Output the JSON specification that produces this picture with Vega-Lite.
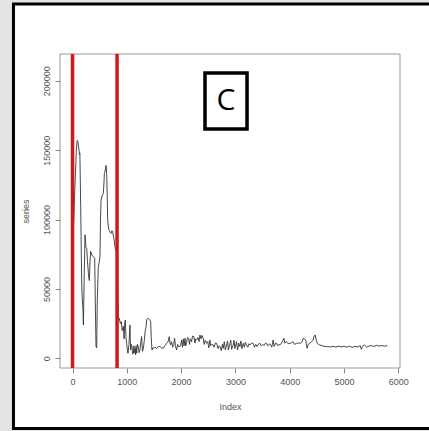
{
  "$schema": "https://vega.github.io/schema/vega-lite/v6.json",
  "autosize": {"type": "none"},
  "width": 340,
  "height": 314,
  "padding": {"left": 60, "top": 54, "right": 29, "bottom": 63},
  "background": "#e4e4e4",
  "config": {
    "view": {"stroke": null},
    "axis": {
      "domain": false,
      "grid": false,
      "tickColor": "#888888",
      "tickSize": 5,
      "labelColor": "#555555",
      "labelFont": "Liberation Sans",
      "labelFontSize": 9,
      "labelPadding": 4,
      "titleColor": "#555555",
      "titleFont": "Liberation Sans",
      "titleFontSize": 9,
      "titleFontWeight": "normal"
    }
  },
  "datasets": {
    "series": [
      {"Index": 1, "series": 18000}, {"Index": 15, "series": 90000}, {"Index": 40, "series": 120000}, {"Index": 70, "series": 150000},
      {"Index": 85, "series": 157000}, {"Index": 100, "series": 156000}, {"Index": 120, "series": 150000}, {"Index": 126, "series": 147000},
      {"Index": 135, "series": 148000}, {"Index": 150, "series": 110000}, {"Index": 169, "series": 54000}, {"Index": 180, "series": 42000},
      {"Index": 187, "series": 38000}, {"Index": 195, "series": 32000}, {"Index": 200, "series": 24000}, {"Index": 215, "series": 60000},
      {"Index": 230, "series": 89000}, {"Index": 240, "series": 84000}, {"Index": 248, "series": 80000}, {"Index": 262, "series": 79000},
      {"Index": 275, "series": 70000}, {"Index": 291, "series": 62000}, {"Index": 300, "series": 58000}, {"Index": 310, "series": 56000},
      {"Index": 322, "series": 70000}, {"Index": 334, "series": 77000}, {"Index": 350, "series": 75000}, {"Index": 371, "series": 73500},
      {"Index": 390, "series": 73000}, {"Index": 408, "series": 72000}, {"Index": 420, "series": 40000}, {"Index": 432, "series": 8400},
      {"Index": 445, "series": 7500}, {"Index": 455, "series": 40000}, {"Index": 475, "series": 66000}, {"Index": 495, "series": 70000},
      {"Index": 506, "series": 74000}, {"Index": 515, "series": 100000}, {"Index": 525, "series": 114000}, {"Index": 545, "series": 117000},
      {"Index": 567, "series": 119000}, {"Index": 580, "series": 127000}, {"Index": 586, "series": 133000}, {"Index": 600, "series": 135000},
      {"Index": 617, "series": 139000}, {"Index": 629, "series": 133000}, {"Index": 640, "series": 115000}, {"Index": 647, "series": 100000},
      {"Index": 665, "series": 93000}, {"Index": 678, "series": 92000}, {"Index": 695, "series": 90500}, {"Index": 709, "series": 90000},
      {"Index": 725, "series": 92000}, {"Index": 739, "series": 91500}, {"Index": 752, "series": 88000}, {"Index": 764, "series": 86000},
      {"Index": 788, "series": 79000}, {"Index": 815, "series": 76000}, {"Index": 845, "series": 28000}, {"Index": 862, "series": 28800},
      {"Index": 880, "series": 25000}, {"Index": 899, "series": 26400}, {"Index": 915, "series": 20000}, {"Index": 936, "series": 23000},
      {"Index": 950, "series": 14000}, {"Index": 960, "series": 25000}, {"Index": 972, "series": 27600}, {"Index": 985, "series": 15000},
      {"Index": 997, "series": 10800}, {"Index": 1010, "series": 6000}, {"Index": 1021, "series": 3600}, {"Index": 1040, "series": 10000},
      {"Index": 1058, "series": 24000}, {"Index": 1065, "series": 12000}, {"Index": 1071, "series": 6000}, {"Index": 1082, "series": 10000},
      {"Index": 1095, "series": 8400}, {"Index": 1105, "series": 3000}, {"Index": 1120, "series": 3600}, {"Index": 1130, "series": 9000},
      {"Index": 1140, "series": 4000}, {"Index": 1150, "series": 7200}, {"Index": 1160, "series": 2500}, {"Index": 1170, "series": 9000},
      {"Index": 1181, "series": 3600}, {"Index": 1195, "series": 10000}, {"Index": 1212, "series": 8400}, {"Index": 1225, "series": 4000},
      {"Index": 1242, "series": 6000}, {"Index": 1258, "series": 12000}, {"Index": 1273, "series": 15600}, {"Index": 1288, "series": 5000},
      {"Index": 1304, "series": 7200}, {"Index": 1320, "series": 12000}, {"Index": 1340, "series": 20400}, {"Index": 1352, "series": 22000},
      {"Index": 1365, "series": 27600}, {"Index": 1380, "series": 28500}, {"Index": 1402, "series": 28800}, {"Index": 1420, "series": 28000},
      {"Index": 1439, "series": 26400}, {"Index": 1450, "series": 15000}, {"Index": 1463, "series": 6000}, {"Index": 1480, "series": 7500},
      {"Index": 1500, "series": 7200}, {"Index": 1520, "series": 8000}, {"Index": 1549, "series": 7000}, {"Index": 1580, "series": 8500},
      {"Index": 1610, "series": 8400}, {"Index": 1640, "series": 7500}, {"Index": 1672, "series": 7200}, {"Index": 1700, "series": 9000},
      {"Index": 1733, "series": 10800}, {"Index": 1760, "series": 12000}, {"Index": 1782, "series": 15600}, {"Index": 1795, "series": 11000},
      {"Index": 1807, "series": 9600}, {"Index": 1825, "series": 12000}, {"Index": 1844, "series": 8000}, {"Index": 1865, "series": 10000},
      {"Index": 1880, "series": 14400}, {"Index": 1895, "series": 9000}, {"Index": 1917, "series": 6000}, {"Index": 1935, "series": 10000},
      {"Index": 1950, "series": 8500}, {"Index": 1979, "series": 8400}, {"Index": 1995, "series": 10000}, {"Index": 2009, "series": 13200},
      {"Index": 2025, "series": 8000}, {"Index": 2040, "series": 14000}, {"Index": 2055, "series": 9000}, {"Index": 2071, "series": 14400},
      {"Index": 2085, "series": 9000}, {"Index": 2101, "series": 10800}, {"Index": 2115, "series": 15000}, {"Index": 2138, "series": 14400},
      {"Index": 2155, "series": 10000}, {"Index": 2170, "series": 14000}, {"Index": 2193, "series": 12000}, {"Index": 2210, "series": 16000},
      {"Index": 2236, "series": 15600}, {"Index": 2255, "series": 11000}, {"Index": 2270, "series": 14000}, {"Index": 2285, "series": 13200},
      {"Index": 2310, "series": 15000}, {"Index": 2330, "series": 12000}, {"Index": 2347, "series": 16800}, {"Index": 2365, "series": 14000},
      {"Index": 2385, "series": 16500}, {"Index": 2408, "series": 14400}, {"Index": 2425, "series": 10000}, {"Index": 2445, "series": 13000},
      {"Index": 2469, "series": 10800}, {"Index": 2490, "series": 12000}, {"Index": 2510, "series": 7500}, {"Index": 2530, "series": 13200},
      {"Index": 2545, "series": 9000}, {"Index": 2565, "series": 10000}, {"Index": 2592, "series": 9600}, {"Index": 2610, "series": 8000},
      {"Index": 2630, "series": 11000}, {"Index": 2653, "series": 10800}, {"Index": 2680, "series": 7000}, {"Index": 2700, "series": 9000},
      {"Index": 2715, "series": 8400}, {"Index": 2740, "series": 5500}, {"Index": 2760, "series": 10000}, {"Index": 2776, "series": 7200},
      {"Index": 2795, "series": 12000}, {"Index": 2815, "series": 6000}, {"Index": 2837, "series": 9600}, {"Index": 2855, "series": 12500},
      {"Index": 2870, "series": 6000}, {"Index": 2899, "series": 10800}, {"Index": 2915, "series": 13000}, {"Index": 2930, "series": 6500},
      {"Index": 2960, "series": 9600}, {"Index": 2975, "series": 13000}, {"Index": 2990, "series": 7000}, {"Index": 3021, "series": 12000},
      {"Index": 3040, "series": 6000}, {"Index": 3060, "series": 11000}, {"Index": 3083, "series": 8400}, {"Index": 3100, "series": 12500},
      {"Index": 3120, "series": 7000}, {"Index": 3144, "series": 10800}, {"Index": 3165, "series": 8000}, {"Index": 3185, "series": 11500},
      {"Index": 3205, "series": 9600}, {"Index": 3230, "series": 8000}, {"Index": 3250, "series": 10500}, {"Index": 3270, "series": 9600},
      {"Index": 3300, "series": 11000}, {"Index": 3328, "series": 10800}, {"Index": 3350, "series": 8000}, {"Index": 3375, "series": 10000},
      {"Index": 3400, "series": 8400}, {"Index": 3430, "series": 10500}, {"Index": 3451, "series": 10800}, {"Index": 3475, "series": 9000},
      {"Index": 3500, "series": 10000}, {"Index": 3530, "series": 9200}, {"Index": 3555, "series": 11000}, {"Index": 3574, "series": 10800},
      {"Index": 3600, "series": 9000}, {"Index": 3630, "series": 10500}, {"Index": 3650, "series": 9600}, {"Index": 3670, "series": 8000},
      {"Index": 3696, "series": 13200}, {"Index": 3715, "series": 8500}, {"Index": 3740, "series": 11000}, {"Index": 3758, "series": 10800},
      {"Index": 3780, "series": 9000}, {"Index": 3800, "series": 10000}, {"Index": 3820, "series": 9600}, {"Index": 3850, "series": 11000},
      {"Index": 3870, "series": 12500}, {"Index": 3893, "series": 14400}, {"Index": 3910, "series": 11000}, {"Index": 3942, "series": 12000},
      {"Index": 3970, "series": 10500}, {"Index": 4003, "series": 10800}, {"Index": 4030, "series": 11000}, {"Index": 4060, "series": 12000},
      {"Index": 4090, "series": 10000}, {"Index": 4126, "series": 10800}, {"Index": 4160, "series": 11000}, {"Index": 4200, "series": 10800},
      {"Index": 4230, "series": 12000}, {"Index": 4248, "series": 14400}, {"Index": 4270, "series": 14000}, {"Index": 4297, "series": 13200},
      {"Index": 4310, "series": 9000}, {"Index": 4322, "series": 7200}, {"Index": 4340, "series": 10000}, {"Index": 4371, "series": 10800},
      {"Index": 4400, "series": 12000}, {"Index": 4432, "series": 13200}, {"Index": 4450, "series": 16000}, {"Index": 4469, "series": 16800},
      {"Index": 4485, "series": 14000}, {"Index": 4506, "series": 10800}, {"Index": 4530, "series": 10000}, {"Index": 4555, "series": 9600},
      {"Index": 4600, "series": 9000}, {"Index": 4650, "series": 8500}, {"Index": 4700, "series": 8400}, {"Index": 4750, "series": 8200},
      {"Index": 4800, "series": 8600}, {"Index": 4850, "series": 8000}, {"Index": 4900, "series": 8800}, {"Index": 4950, "series": 8200},
      {"Index": 5000, "series": 8600}, {"Index": 5050, "series": 8000}, {"Index": 5100, "series": 8800}, {"Index": 5150, "series": 7800},
      {"Index": 5200, "series": 8600}, {"Index": 5250, "series": 8200}, {"Index": 5300, "series": 9000}, {"Index": 5320, "series": 6500},
      {"Index": 5340, "series": 8600}, {"Index": 5380, "series": 9500}, {"Index": 5420, "series": 8000}, {"Index": 5460, "series": 8800},
      {"Index": 5500, "series": 9200}, {"Index": 5550, "series": 8500}, {"Index": 5600, "series": 9300}, {"Index": 5650, "series": 8800},
      {"Index": 5700, "series": 9200}, {"Index": 5750, "series": 8700}, {"Index": 5800, "series": 9200}
    ],
    "breaks": [{"Index": 0}, {"Index": 820}]
  },
  "encoding": {
    "x": {
      "field": "Index", "type": "quantitative",
      "scale": {"domain": [-231, 6032], "nice": false, "zero": false},
      "axis": {"zindex": 2, "values": [0, 1000, 2000, 3000, 4000, 5000, 6000], "format": "d", "title": "Index", "titlePadding": 16}
    },
    "y": {
      "field": "series", "type": "quantitative",
      "scale": {"domain": [-7000, 219300], "nice": false, "zero": false},
      "axis": {"zindex": 2, "values": [0, 50000, 100000, 150000, 200000], "format": "d", "labelAngle": 270, "title": "series", "titlePadding": 12}
    }
  },
  "layer": [
    {
      "data": {"values": [{"Index": -1088, "Index2": 7500, "series": 255340, "series2": -50600}]},
      "mark": {"type": "rect", "fill": "#ffffff", "stroke": "#000000", "strokeWidth": 3},
      "encoding": {
        "x2": {"field": "Index2"},
        "y2": {"field": "series2"}
      }
    },
    {
      "data": {"values": [{"Index": -231, "Index2": 6032, "series": -7000, "series2": 219300}]},
      "mark": {"type": "rect", "fill": null, "stroke": "#999999", "strokeWidth": 1},
      "encoding": {
        "x2": {"field": "Index2"},
        "y2": {"field": "series2"}
      }
    },
    {
      "data": {"name": "series"},
      "mark": {"type": "line", "color": "#333333", "strokeWidth": 0.9}
    },
    {
      "data": {"name": "breaks"},
      "mark": {"type": "rule", "color": "#d01a1a", "strokeWidth": 3.5},
      "encoding": {
        "y": null
      }
    },
    {
      "data": {"values": [{"Index": 2440, "Index2": 3214, "series": 205600, "series2": 165250}]},
      "mark": {"type": "rect", "fill": "#ffffff", "stroke": "#000000", "strokeWidth": 3.5},
      "encoding": {
        "x2": {"field": "Index2"},
        "y2": {"field": "series2"}
      }
    },
    {
      "data": {"values": [{"label": "C", "Index": 2827, "series": 185430}]},
      "mark": {"type": "text", "font": "Open Sans", "fontSize": 30, "color": "#000000", "align": "center", "baseline": "middle"},
      "encoding": {
        "text": {"field": "label"}
      }
    }
  ]
}
